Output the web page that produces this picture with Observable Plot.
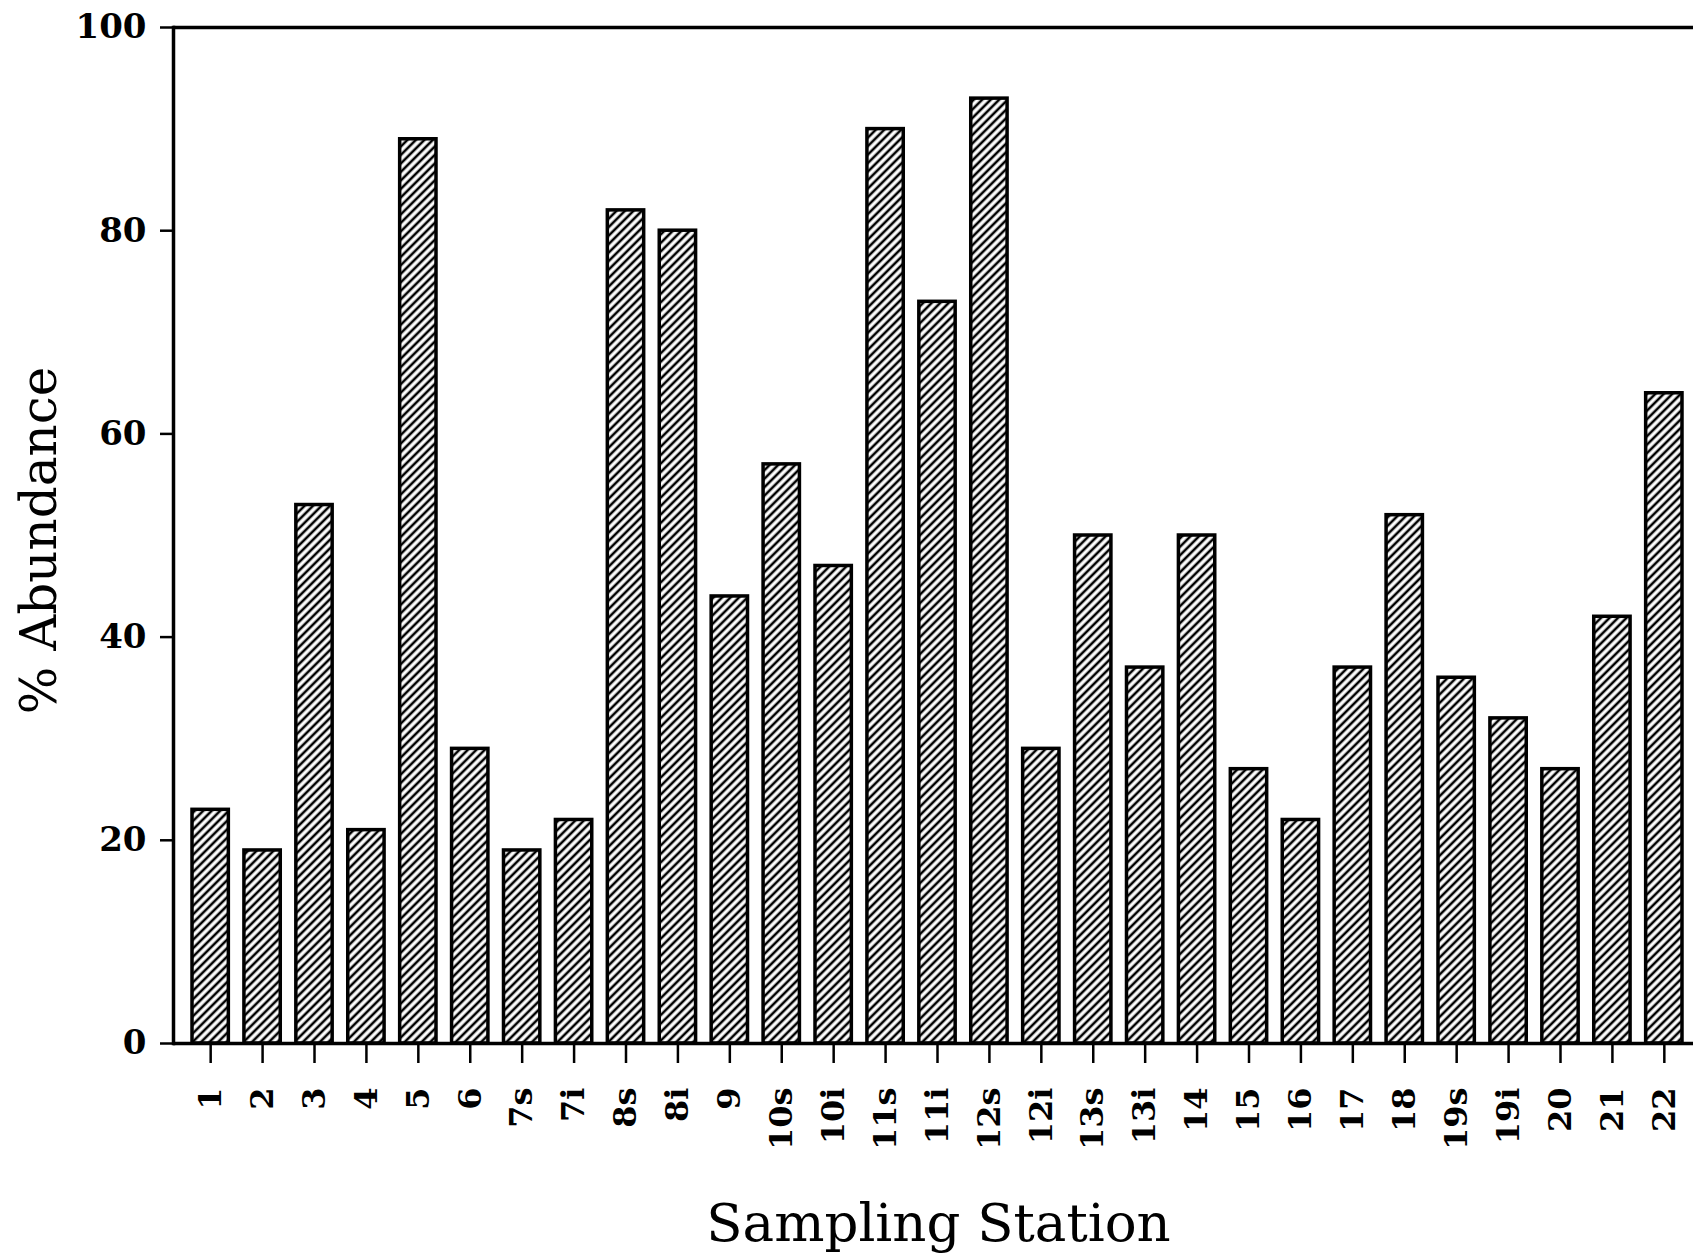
<!DOCTYPE html>
<html>
<head>
<meta charset="utf-8">
<script src="https://cdn.jsdelivr.net/npm/d3@7"></script>
<script src="https://cdn.jsdelivr.net/npm/@observablehq/plot@0.6"></script>
<style>
  html, body { margin: 0; padding: 0; background: white; }
  #chart svg { display: block; }
</style>
</head>
<body>
<div id="chart"></div>
<script>
const stations = ["1","2","3","4","5","6","7s","7i","8s","8i","9","10s","10i","11s","11i","12s","12i","13s","13i","14","15","16","17","18","19s","19i","20","21","22"];
const abundance = [23,19,53,21,89,29,19,22,82,80,44,57,47,90,73,93,29,50,37,50,27,22,37,52,36,32,27,42,64];
const yTicks = [0,20,40,60,80,100];
const xTitle = "Sampling Station";
const yTitle = "% Abundance";

const data = stations.map((s, i) => ({station: s, value: abundance[i]}));

const chart = Plot.plot({
  width: 1693,
  height: 1254,
  marginTop: 27,
  marginBottom: 211,
  marginLeft: 173,
  marginRight: 0,
  style: {fontFamily: "DejaVu Serif", background: "white", color: "black"},
  x: {domain: stations, paddingInner: 0.3, paddingOuter: 0, round: false, insetLeft: 19, insetRight: 11, label: null},
  y: {domain: [0, 100], label: null},
  marks: [
    Plot.barY(data, {x: "station", y: "value", fill: "url(#hatch)", stroke: "black", strokeWidth: 3.5}),
    Plot.ruleY([0, 100], {stroke: "black", strokeWidth: 3.5}),
    Plot.frame({anchor: "left", stroke: "black", strokeWidth: 3.5}),
    Plot.axisX({tickRotate: -90, tickSize: 20, tickPadding: 24, fontSize: 32, fontWeight: "bold", strokeWidth: 2.5, label: null}),
    Plot.axisY({ticks: yTicks, tickSize: 13, tickPadding: 14, fontSize: 34, fontWeight: "bold", strokeWidth: 2.5, label: null}),
    Plot.text([xTitle], {frameAnchor: "bottom", dy: 181, dx: 5, fontSize: 53, letterSpacing: 2, lineAnchor: "middle", fill: "black"}),
    Plot.text([yTitle], {frameAnchor: "left", dx: -134, dy: 5, rotate: -90, textAnchor: "middle", fontSize: 50, letterSpacing: 0.5, lineAnchor: "middle", fill: "black"})
  ]
});

const svg = d3.select(chart);
const defs = svg.insert("defs", ":first-child");
const pat = defs.append("pattern")
  .attr("id", "hatch")
  .attr("patternUnits", "userSpaceOnUse")
  .attr("width", 6)
  .attr("height", 6)
  .attr("patternTransform", "rotate(45)");
pat.append("rect").attr("width", 6).attr("height", 6).attr("fill", "white");
pat.append("line")
  .attr("x1", 3).attr("y1", 0).attr("x2", 3).attr("y2", 6)
  .attr("stroke", "black").attr("stroke-width", 2.6);

document.getElementById("chart").appendChild(chart);
</script>
</body>
</html>
